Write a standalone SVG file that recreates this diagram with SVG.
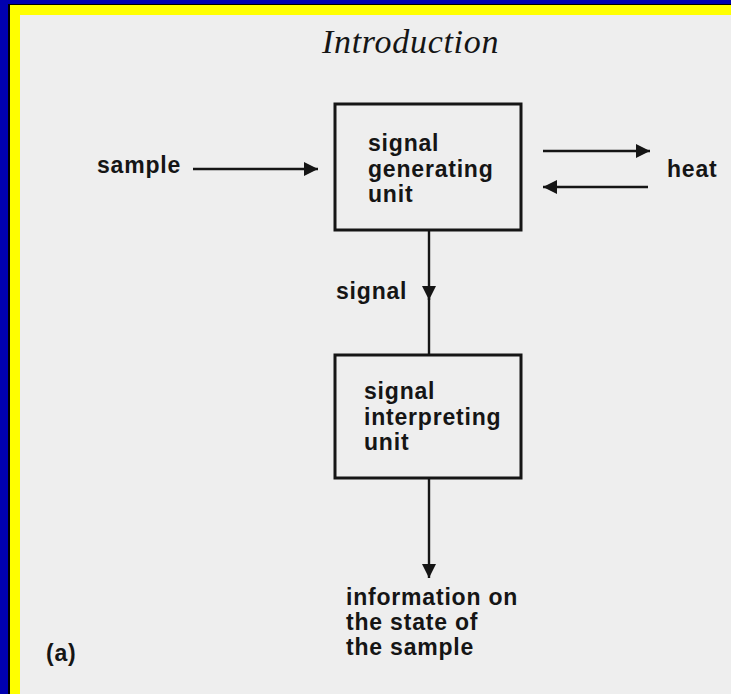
<svg xmlns="http://www.w3.org/2000/svg" width="731" height="694" viewBox="0 0 731 694">
<style>
.lbl{font-family:"Liberation Sans",Arial,sans-serif;font-weight:bold;font-size:23px;letter-spacing:0.8px;fill:#151515}
.title{font-family:"Liberation Serif","Times New Roman",serif;font-style:italic;font-size:34px;letter-spacing:0.7px;fill:#151515}
.box{fill:none;stroke:#151515;stroke-width:3}
.ln{fill:none;stroke:#151515;stroke-width:2.4}
</style>
<defs>
<marker id="ah" markerUnits="userSpaceOnUse" markerWidth="15" markerHeight="15" refX="14" refY="7.5" orient="auto">
<path d="M0,0.5 L14,7.5 L0,14.5 z" fill="#151515"/>
</marker>
</defs>
<g id="frame">
<rect x="0" y="0" width="731" height="694" fill="#0000b0"/>
<rect x="8" y="4" width="723" height="690" fill="#000000"/>
<rect x="10" y="5" width="721" height="689" fill="#ffff00"/>
<rect x="20" y="15" width="711" height="679" fill="#eeeeee"/>
</g>
<text class="title" x="322" y="53">Introduction</text>
<g id="connectors">
<path class="ln" d="M193,169 L318,169" marker-end="url(#ah)"/>
<path class="ln" d="M543,151 L650,151" marker-end="url(#ah)"/>
<path class="ln" d="M648,187 L543,187" marker-end="url(#ah)"/>
<path class="ln" d="M429,230 L429,300" marker-end="url(#ah)"/>
<path class="ln" d="M429,298 L429,355"/>
<path class="ln" d="M429,478 L429,578" marker-end="url(#ah)"/>
</g>
<g id="sample"><text class="lbl" x="97" y="173">sample</text></g>
<g id="heat"><text class="lbl" x="667" y="177">heat</text></g>
<g id="signal-label"><text class="lbl" x="336" y="299">signal</text></g>
<g id="generating-unit">
<rect class="box" x="335" y="104" width="186" height="126"/>
<text class="lbl" x="368" y="151">signal</text>
<text class="lbl" x="368" y="176.5">generating</text>
<text class="lbl" x="368" y="202">unit</text>
</g>
<g id="interpreting-unit">
<rect class="box" x="335" y="355" width="186" height="123"/>
<text class="lbl" x="364" y="399">signal</text>
<text class="lbl" x="364" y="424.5">interpreting</text>
<text class="lbl" x="364" y="450">unit</text>
</g>
<g id="information">
<text class="lbl" x="346" y="605">information on</text>
<text class="lbl" x="346" y="630">the state of</text>
<text class="lbl" x="346" y="655">the sample</text>
</g>
<g id="caption"><text class="lbl" x="46" y="661">(a)</text></g>
</svg>
